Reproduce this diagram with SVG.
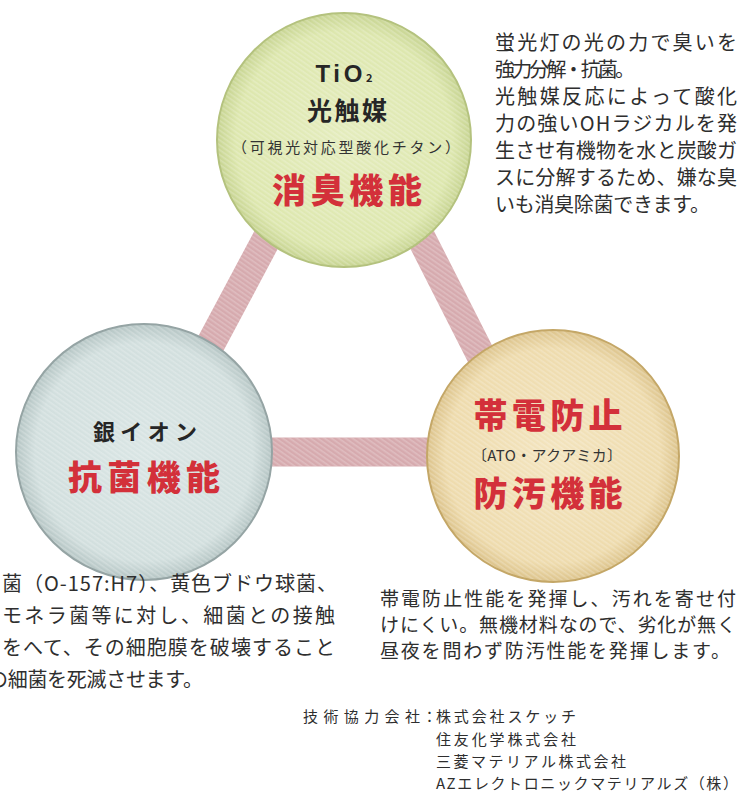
<svg xmlns="http://www.w3.org/2000/svg" width="743" height="793" viewBox="0 0 743 793">
<style>
.para{font-family:"Noto Sans CJK JP","Noto Sans CJK SC",sans-serif;font-size:20px;fill:#2e2e2e;}
.para2{font-family:"Noto Sans CJK JP","Noto Sans CJK SC",sans-serif;font-size:19px;fill:#2e2e2e;}
.credit{font-family:"Noto Sans CJK JP","Noto Sans CJK SC",sans-serif;font-size:15px;fill:#2e2e2e;}
.head{font-family:"Noto Sans CJK JP","Noto Sans CJK SC",sans-serif;font-weight:bold;fill:#262626;text-anchor:middle;}
.red{font-family:"Noto Sans CJK JP","Noto Sans CJK SC",sans-serif;font-weight:900;font-size:34px;fill:#d3303a;text-anchor:middle;}
.sub{font-family:"Noto Sans CJK JP","Noto Sans CJK SC",sans-serif;font-size:15px;fill:#333;text-anchor:middle;}
.band{stroke:#d6aaae;stroke-width:29;stroke-linecap:butt;fill:none;}
.bandtex{stroke:url(#stripes);stroke-width:29;fill:none;}
</style>
<defs>
<pattern id="stripes" patternUnits="userSpaceOnUse" width="4" height="4" patternTransform="rotate(35)">
<rect x="0" y="0" width="4" height="1.6" fill="#ffffff" fill-opacity="0.22"/>
</pattern>
<radialGradient id="gGreen" cx="0.5" cy="0.5" r="0.5">
<stop offset="0" stop-color="#e4ecbd"/>
<stop offset="0.85" stop-color="#dde7ae"/>
<stop offset="1" stop-color="#c7d492"/>
</radialGradient>
<radialGradient id="gBlue" cx="0.5" cy="0.5" r="0.5">
<stop offset="0" stop-color="#d9e5e4"/>
<stop offset="0.85" stop-color="#d2dfde"/>
<stop offset="1" stop-color="#b5c5c4"/>
</radialGradient>
<radialGradient id="gBeige" cx="0.5" cy="0.5" r="0.5">
<stop offset="0" stop-color="#f3e4be"/>
<stop offset="0.85" stop-color="#eedbad"/>
<stop offset="1" stop-color="#dcc38b"/>
</radialGradient>
</defs>
<rect width="743" height="793" fill="#ffffff"/>

<g id="connectors">
<line class="band" x1="346" y1="90" x2="153" y2="452"/>
<line class="band" x1="346" y1="90" x2="530" y2="452"/>
<line class="band" x1="153" y1="452" x2="530" y2="452"/>
<line class="bandtex" x1="346" y1="90" x2="153" y2="452"/>
<line class="bandtex" x1="346" y1="90" x2="530" y2="452"/>
<line class="bandtex" x1="153" y1="452" x2="530" y2="452"/>
</g>

<g id="node-deodorize">
<circle cx="344" cy="140" r="127" fill="url(#gGreen)" stroke="#b4c27e" stroke-width="2"/>
<circle cx="344" cy="140" r="126" fill="url(#stripes)"/>
<text class="head" x="344" y="82" font-size="24"><tspan font-family="Liberation Sans, sans-serif" textLength="47">TiO</tspan><tspan font-size="11">2</tspan></text>
<text class="head" x="347" y="120" font-size="25" textLength="80">光触媒</text>
<text class="sub" x="346" y="153" font-size="16" textLength="228">（可視光対応型酸化チタン）</text>
<text class="red" x="347" y="203" textLength="150">消臭機能</text>
</g>

<g id="node-antibacterial">
<circle cx="144" cy="452" r="128" fill="url(#gBlue)" stroke="#95a4a4" stroke-width="2"/>
<circle cx="144" cy="452" r="127" fill="url(#stripes)"/>
<text class="head" x="145" y="440" font-size="22" textLength="104">銀イオン</text>
<text class="red" x="144" y="490" textLength="152">抗菌機能</text>
</g>

<g id="node-antistatic">
<circle cx="553" cy="456" r="126" fill="url(#gBeige)" stroke="#c4a767" stroke-width="2"/>
<circle cx="553" cy="456" r="125" fill="url(#stripes)"/>
<text class="red" x="548" y="428" textLength="149">帯電防止</text>
<text class="sub" x="547" y="461" textLength="150">〔ATO・アクアミカ〕</text>
<text class="red" x="548" y="506" textLength="149">防汚機能</text>
</g>

<g id="text-deodorize">
<text class="para" x="495" y="50" textLength="242">蛍光灯の光の力で臭いを</text>
<text class="para" x="495" y="77" textLength="140">強力分解・抗菌。</text>
<text class="para" x="495" y="104" textLength="242">光触媒反応によって酸化</text>
<text class="para" x="495" y="131" textLength="242">力の強いOHラジカルを発</text>
<text class="para" x="495" y="158" textLength="242">生させ有機物を水と炭酸ガ</text>
<text class="para" x="495" y="185" textLength="242">スに分解するため、嫌な臭</text>
<text class="para" x="495" y="212" textLength="215">いも消臭除菌できます。</text>
</g>

<g id="text-antibacterial">
<text class="para" x="2" y="591" textLength="335">菌（O-157:H7）、黄色ブドウ球菌、</text>
<text class="para" x="2" y="623" textLength="333">モネラ菌等に対し、細菌との接触</text>
<text class="para" x="2" y="655" textLength="333">をへて、その細胞膜を破壊すること</text>
<text class="para" x="-12" y="687" textLength="215">の細菌を死滅させます。</text>
</g>

<g id="text-antistatic">
<text class="para2" x="380" y="606" textLength="356">帯電防止性能を発揮し、汚れを寄せ付</text>
<text class="para2" x="380" y="632" textLength="356">けにくい。無機材料なので、劣化が無く</text>
<text class="para2" x="380" y="658" textLength="350">昼夜を問わず防汚性能を発揮します。</text>
</g>

<g id="credits">
<text class="credit" x="303" y="722" textLength="117">技術協力会社</text>
<text class="credit" x="422" y="722">：</text>
<text class="credit" x="436" y="722" textLength="140">株式会社スケッチ</text>
<text class="credit" x="436" y="745" textLength="140">住友化学株式会社</text>
<text class="credit" x="436" y="767" textLength="190">三菱マテリアル株式会社</text>
<text class="credit" x="436" y="789" textLength="302">AZエレクトロニックマテリアルズ（株）</text>
</g>
</svg>
